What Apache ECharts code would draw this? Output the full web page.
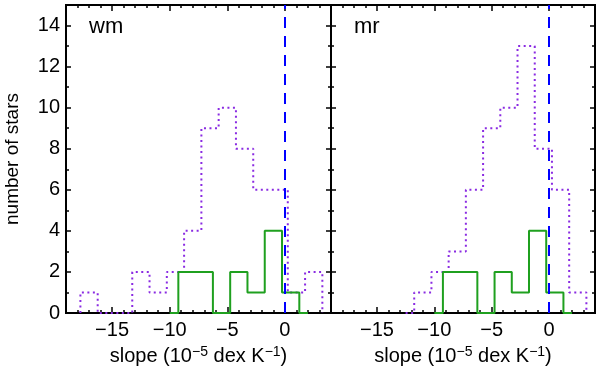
<!DOCTYPE html>
<html>
<head>
<meta charset="utf-8">
<script src="https://cdn.jsdelivr.net/npm/echarts@6/dist/echarts.min.js"></script>
<style>
  html, body { margin: 0; padding: 0; background: #fff; }
  #main { width: 600px; height: 372px; }
</style>
</head>
<body>
<div id="main"></div>
<script>
// histogram bin edges and counts
const wmEdges = [-17.75, -16.25, -14.75, -13.25, -11.75, -10.25, -8.75, -7.25, -5.75, -4.25, -2.75, -1.25, 0.25, 1.75, 3.25];
const wmCounts = [1, 0, 0, 2, 1, 2, 4, 9, 10, 8, 6, 6, 1, 2];

const mrEdges = [-12.5, -11.75, -10.25, -8.75, -7.25, -5.75, -4.25, -2.75, -1.25, 0.25, 1.75, 3.25];
const mrCounts = [0, 1, 2, 3, 6, 9, 10, 13, 8, 6, 1];

// green sample, same in both panels
const subEdges = [-10.0, -9.25, -7.75, -6.25, -4.75, -3.25, -1.75, -0.25, 1.25, 2.0];
const subCounts = [0, 2, 2, 0, 2, 1, 4, 1, 0];

const zeroSlope = 0;

const xMin = -19, xMax = 4;
const yMin = 0, yMax = 15;
const xMajor = [-15, -10, -5, 0];
const xMinor = [-18, -17, -16, -14, -13, -12, -11, -9, -8, -7, -6, -4, -3, -2, -1, 1, 2, 3];
const yMajor = [0, 2, 4, 6, 8, 10, 12, 14];
const yMinor = [1, 3, 5, 7, 9, 11, 13];

const panelNames = ['wm', 'mr'];

const font = 'Liberation Sans, Arial, Helvetica, sans-serif';

// histogram outline as a step line
function steps(edges, counts) {
  const pts = [[edges[0], 0]];
  for (let i = 0; i < counts.length; i++) {
    pts.push([edges[i], counts[i]]);
    pts.push([edges[i + 1], counts[i]]);
  }
  pts.push([edges[edges.length - 1], 0]);
  return pts;
}

function minus(v) {
  return v < 0 ? '\u2212' + Math.abs(v) : String(v);
}

function xAxisOf(gi, pos, ticks, len, withLabels) {
  return {
    type: 'value', gridIndex: gi, position: pos, min: xMin, max: xMax,
    axisLine: { show: true, onZero: false, lineStyle: { color: '#000', width: 2 } },
    axisTick: { show: true, inside: true, length: len, customValues: ticks, lineStyle: { color: '#000', width: 1.5 } },
    axisLabel: {
      show: withLabels, customValues: xMajor, margin: 7, formatter: minus,
      color: '#000', fontSize: 20, fontFamily: font
    },
    splitLine: { show: false },
    name: withLabels ? '{n|slope (10}{s|\u22125}{n| dex K}{s|\u22121}{n|)}' : '',
    nameLocation: 'middle',
    nameGap: 30,
    nameTextStyle: {
      rich: {
        n: { fontSize: 20, fontFamily: font, color: '#000', lineHeight: 24 },
        s: { fontSize: 14, fontFamily: font, color: '#000', lineHeight: 14, verticalAlign: 'top' }
      }
    }
  };
}

function yAxisOf(gi, pos, ticks, len, withLabels) {
  return {
    type: 'value', gridIndex: gi, position: pos, min: yMin, max: yMax,
    axisLine: { show: true, onZero: false, lineStyle: { color: '#000', width: 2 } },
    axisTick: { show: true, inside: true, length: len, customValues: ticks, lineStyle: { color: '#000', width: 1.5 } },
    axisLabel: {
      show: withLabels, customValues: yMajor, margin: 6,
      color: '#000', fontSize: 20, fontFamily: font
    },
    splitLine: { show: false },
    name: withLabels ? 'number of stars' : '',
    nameLocation: 'middle',
    nameGap: 44,
    nameTextStyle: { color: '#000', fontSize: 19, fontFamily: font }
  };
}

const xAxes = [];
const yAxes = [];
[0, 1].forEach(function (gi) {
  xAxes.push(xAxisOf(gi, 'bottom', xMajor, 6, true));
  xAxes.push(xAxisOf(gi, 'bottom', xMinor, 3, false));
  xAxes.push(xAxisOf(gi, 'top', xMajor, 6, false));
  xAxes.push(xAxisOf(gi, 'top', xMinor, 3, false));
  yAxes.push(yAxisOf(gi, 'left', yMajor, 5, gi === 0));
  yAxes.push(yAxisOf(gi, 'left', yMinor, 3, false));
  yAxes.push(yAxisOf(gi, 'right', yMajor, 5, false));
  yAxes.push(yAxisOf(gi, 'right', yMinor, 3, false));
});

function panelSeries(gi, edges, counts) {
  const ax = gi * 4;
  return [
    {
      type: 'line', xAxisIndex: ax, yAxisIndex: ax,
      data: steps(edges, counts), symbol: 'none',
      lineStyle: { color: '#8a2be2', width: 2, type: [2, 3.5] },
      z: 2
    },
    {
      type: 'line', xAxisIndex: ax, yAxisIndex: ax,
      data: steps(subEdges, subCounts), symbol: 'none',
      lineStyle: { color: '#1fa01f', width: 2 },
      z: 3,
      markLine: {
        silent: true, symbol: 'none', label: { show: false },
        lineStyle: { color: '#0000ff', width: 2, type: [11, 8] },
        data: [{ xAxis: zeroSlope }]
      }
    }
  ];
}

const chart = echarts.init(document.getElementById('main'), null, { renderer: 'canvas' });
const option = {
  animation: false,
  backgroundColor: '#fff',
  title: [
    { text: panelNames[0], left: 89, top: 16, padding: 0, textStyle: { fontSize: 22, fontWeight: 'normal', color: '#000', fontFamily: font } },
    { text: panelNames[1], left: 354, top: 16, padding: 0, textStyle: { fontSize: 22, fontWeight: 'normal', color: '#000', fontFamily: font } }
  ],
  grid: [
    { left: 66, width: 265, top: 5, bottom: 59 },
    { left: 331, right: 5, top: 5, bottom: 59 }
  ],
  xAxis: xAxes,
  yAxis: yAxes,
  series: panelSeries(0, wmEdges, wmCounts).concat(panelSeries(1, mrEdges, mrCounts))
};
chart.setOption(option);
</script>
</body>
</html>
